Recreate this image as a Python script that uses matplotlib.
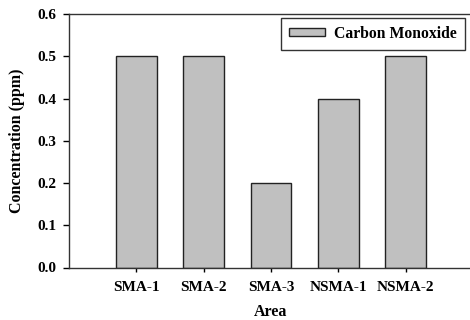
"""
Carbon monoxide concentration by area
"""

import matplotlib
matplotlib.use("Agg")
import matplotlib.pyplot as plt  # type: ignore
import numpy as np

areas = ["SMA-1", "SMA-2", "SMA-3", "NSMA-1", "NSMA-2"]
co_ppm = [0.5, 0.5, 0.2, 0.4, 0.5]
yticks = [0.0, 0.1, 0.2, 0.3, 0.4, 0.5, 0.6]

plt.rcParams["font.family"] = ["Liberation Serif", "DejaVu Serif"]
plt.rcParams["font.weight"] = "bold"

fig = plt.figure(figsize=(4.7, 3.2), dpi=100)
ax = fig.add_axes([69 / 470, 52.5 / 320, 404 / 470, 253.5 / 320])

x = np.arange(len(areas))
ax.bar(x, co_ppm, width=0.6, color="#c0c0c0", edgecolor="#222222",
       linewidth=1.0, label="Carbon Monoxide")

ax.set_xlim(-1, 5)
ax.set_ylim(0, 0.6)
ax.set_xticks(x)
ax.set_xticklabels(areas, fontsize=11, fontweight="bold")
ax.set_yticks(yticks)
ax.set_yticklabels([f"{v:.1f}" for v in yticks], fontsize=11, fontweight="bold")
ax.tick_params(axis="y", direction="out", length=4, width=1, pad=5)
ax.tick_params(axis="x", direction="out", length=3, width=1, pad=7)

for side in ["left", "bottom", "top"]:
    ax.spines[side].set_linewidth(1.0)
    ax.spines[side].set_color("#333333")
ax.spines["right"].set_visible(False)

ax.set_ylabel("Concentration (ppm)", fontsize=11.5, fontweight="bold", labelpad=9)
ax.set_xlabel("Area", fontsize=11.5, fontweight="bold", labelpad=7)

leg = ax.legend(loc="upper right", bbox_to_anchor=(465 / 470, 1 - 18 / 320),
                bbox_transform=fig.transFigure, fontsize=11.3, frameon=True,
                fancybox=False, edgecolor="black", handlelength=2.3,
                handleheight=0.4, borderpad=0.5, handletextpad=0.6,
                borderaxespad=0)
leg.get_frame().set_linewidth(1.0)
for t in leg.get_texts():
    t.set_fontweight("bold")

plt.savefig("out.png", dpi=100)
